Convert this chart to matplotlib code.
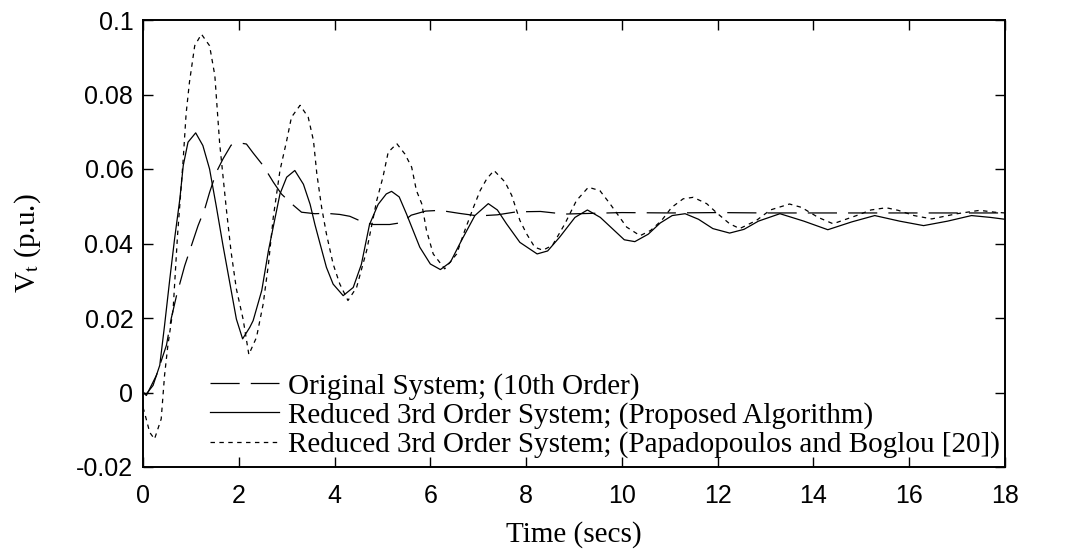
import numpy as np
import matplotlib
matplotlib.use('Agg')
import matplotlib.pyplot as plt

# values: time (secs) and Vt (p.u.)
t_orig = [0, 0.07, 0.28, 0.49, 0.59, 0.7, 0.87, 1.01, 1.15, 1.29, 1.39, 1.53, 1.67, 1.84,
          2.02, 2.16, 2.3, 2.51, 2.72, 2.89, 3.1, 3.31, 3.59, 3.83, 4.11, 4.32, 4.6, 4.81,
          5.15, 5.4, 5.6, 5.9, 6.2, 6.6, 7.0, 7.4, 7.8, 8.3, 8.8, 9.4, 10, 11, 12, 13, 14,
          15, 16, 17, 18]
v_orig = [0.0, -0.0008, 0.0046, 0.0127, 0.0199, 0.026, 0.034, 0.0394, 0.0448, 0.0493,
          0.0537, 0.0591, 0.0627, 0.0664, 0.067, 0.0667, 0.0643, 0.0609, 0.0565, 0.0533,
          0.0507, 0.0484, 0.048, 0.0481, 0.0478, 0.0473, 0.0457, 0.0451, 0.0451, 0.0456,
          0.0476, 0.0487, 0.0489, 0.0481, 0.0474, 0.0477, 0.0485, 0.0486, 0.0479, 0.0481,
          0.0483, 0.0482, 0.0483, 0.0482, 0.0482, 0.0482, 0.0482, 0.0482, 0.0482]

t_prop = [0, 0.07, 0.21, 0.35, 0.45, 0.56, 0.66, 0.77, 0.84, 0.94, 1.1, 1.25, 1.39, 1.53,
          1.67, 1.81, 1.95, 2.08, 2.23, 2.3, 2.48, 2.62, 2.76, 2.86, 3.0, 3.17, 3.35, 3.49,
          3.59, 3.7, 3.83, 3.97, 4.18, 4.39, 4.56, 4.73, 4.91, 5.08, 5.19, 5.35, 5.5, 5.78,
          6.0, 6.21, 6.42, 6.65, 6.93, 7.21, 7.4, 7.59, 7.87, 8.23, 8.45, 8.7, 9.02, 9.28,
          9.55, 9.8, 10.05, 10.27, 10.55, 10.8, 11.05, 11.32, 11.6, 11.9, 12.25, 12.55,
          12.85, 13.3, 13.8, 14.3, 14.8, 15.28, 15.8, 16.3, 16.8, 17.3, 17.7, 18]
v_prop = [0.0, -0.0004, 0.0019, 0.0073, 0.018, 0.0305, 0.0413, 0.052, 0.0609, 0.0672,
          0.0697, 0.0663, 0.06, 0.05, 0.0395, 0.0296, 0.0197, 0.0144, 0.0175, 0.0193,
          0.0274, 0.0381, 0.047, 0.0533, 0.0578, 0.0596, 0.0559, 0.0505, 0.0451, 0.0398,
          0.0336, 0.0291, 0.026, 0.0282, 0.0344, 0.0451, 0.0505, 0.0533, 0.054, 0.0525,
          0.048, 0.039, 0.0345, 0.033, 0.035, 0.0408, 0.0475, 0.0507, 0.049, 0.0453,
          0.0403, 0.0372, 0.038, 0.0417, 0.047, 0.049, 0.047, 0.044, 0.041, 0.0405,
          0.0425, 0.0455, 0.0475, 0.048, 0.0465, 0.044, 0.0428, 0.0438, 0.046, 0.048,
          0.046, 0.0437, 0.0458, 0.0475, 0.046, 0.0448, 0.046, 0.0475, 0.047, 0.0465]

t_papa = [0, 0.03, 0.14, 0.24, 0.38, 0.45, 0.52, 0.63, 0.72, 0.84, 0.9, 0.97, 1.08, 1.22,
          1.39, 1.5, 1.6, 1.74, 1.84, 1.95, 2.09, 2.21, 2.37, 2.51, 2.62, 2.72, 2.86, 3.0,
          3.1, 3.28, 3.45, 3.56, 3.63, 3.73, 3.83, 3.97, 4.11, 4.28, 4.46, 4.67, 4.88, 5.01,
          5.12, 5.3, 5.47, 5.61, 5.71, 5.82, 5.92, 6.06, 6.3, 6.55, 6.72, 6.9, 7.04, 7.18,
          7.33, 7.56, 7.7, 7.87, 8.01, 8.18, 8.35, 8.55, 8.81, 9.05, 9.3, 9.54, 9.75, 10.1,
          10.38, 10.6, 10.83, 11.04, 11.28, 11.49, 11.77, 12.0, 12.25, 12.46, 12.81, 13.1,
          13.5, 13.75, 14.1, 14.41, 14.9, 15.2, 15.52, 15.77, 16.1, 16.47, 17.0, 17.47,
          17.79, 18]
v_papa = [-0.004, -0.0053, -0.0107, -0.0125, -0.0071, 0.0046, 0.0127, 0.0225, 0.042,
          0.0627, 0.0748, 0.0833, 0.0931, 0.0962, 0.0931, 0.0851, 0.067, 0.0493, 0.0377,
          0.0278, 0.0197, 0.0102, 0.0148, 0.0238, 0.0345, 0.047, 0.0596, 0.0676, 0.0739,
          0.0771, 0.0739, 0.0676, 0.0587, 0.0497, 0.0426, 0.0345, 0.0291, 0.0247, 0.0282,
          0.0381, 0.0515, 0.0578, 0.0645, 0.0668, 0.064, 0.0605, 0.0542, 0.0507, 0.0435,
          0.0372, 0.0332, 0.0372, 0.0435, 0.0497, 0.0542, 0.0574, 0.0596, 0.0565, 0.0529,
          0.0462, 0.0426, 0.039, 0.0382, 0.0395, 0.0453, 0.0515, 0.0551, 0.0542, 0.0507,
          0.0444, 0.0421, 0.0435, 0.0462, 0.0497, 0.052, 0.0524, 0.0507, 0.048, 0.0453,
          0.044, 0.0462, 0.049, 0.0506, 0.0497, 0.047, 0.0453, 0.0475, 0.049, 0.0496,
          0.0489, 0.0475, 0.0466, 0.048, 0.0489, 0.0484, 0.0482]

labels = ['Original System; (10th Order)',
          'Reduced 3rd Order System; (Proposed Algorithm)',
          'Reduced 3rd Order System; (Papadopoulos and Boglou [20])']

xticks = list(range(0, 19, 2))
yticks = [-0.02, 0, 0.02, 0.04, 0.06, 0.08, 0.1]
yticklabels = ['-0.02', '0', '0.02', '0.04', '0.06', '0.08', '0.1']

plt.rcParams['lines.scale_dashes'] = False
plt.rcParams['mathtext.fontset'] = 'stix'
serif = ['Liberation Serif', 'DejaVu Serif']
sans = ['Liberation Sans', 'DejaVu Sans']

fig = plt.figure(figsize=(10.68, 5.51), dpi=100)
ax = fig.add_axes([143/1068, 1 - 467/551, 862/1068, 447/551])

ax.plot(t_orig, v_orig, color='k', lw=0.9, dashes=(21, 8), label=labels[0])
ax.plot(t_prop, v_prop, color='k', lw=0.9, label=labels[1])
ax.plot(t_papa, v_papa, color='k', lw=0.9, dashes=(3.2, 3.2), label=labels[2])

ax.set_xlim(0, 18)
ax.set_ylim(-0.02, 0.1)
ax.set_xticks(xticks)
ax.set_xticklabels([str(x) for x in xticks], family=sans, fontsize=18)
ax.set_yticks(yticks)
ax.set_yticklabels(yticklabels, family=sans, fontsize=18)
ax.tick_params(direction='in', top=True, right=True, length=7, width=1)
ax.tick_params(axis='x', pad=12)
ax.tick_params(axis='y', pad=7)
for s in ax.spines.values():
    s.set_linewidth(1.4)

ax.set_xlabel('Time (secs)', family=serif, fontsize=21, labelpad=10)
ax.set_ylabel('V$_\\mathrm{t}$ (p.u.)', family=serif, fontsize=21, labelpad=24)

ax.legend(loc='lower left', bbox_to_anchor=(0.0777, 0.02), frameon=False,
          prop={'family': serif, 'size': 21}, handlelength=2.35,
          handletextpad=0.34, labelspacing=0.08, borderpad=0, borderaxespad=0)

fig.savefig('out.png', dpi=100)
